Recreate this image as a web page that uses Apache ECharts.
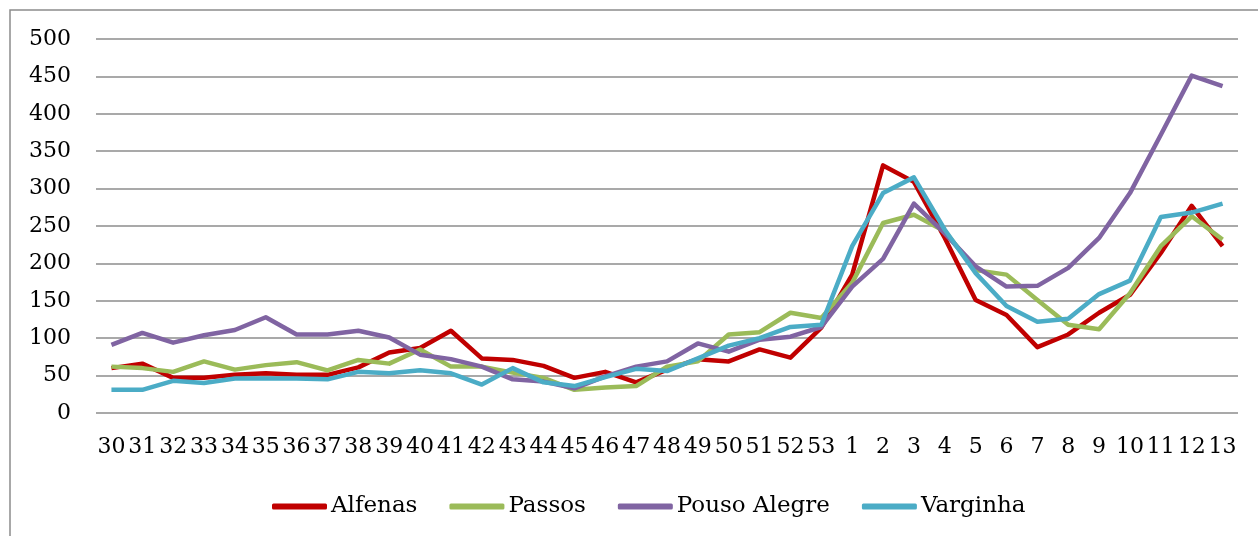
<!DOCTYPE html>
<html>
<head>
<meta charset="utf-8">
<script src="https://cdn.jsdelivr.net/npm/echarts@6/dist/echarts.min.js"></script>
<style>html,body{margin:0;padding:0;background:#fff}#c{width:1258px;height:536px}</style>
</head>
<body>
<div id="c"></div>
<script>
const weeks = ['30','31','32','33','34','35','36','37','38','39','40','41','42','43','44','45','46','47','48','49','50','51','52','53','1','2','3','4','5','6','7','8','9','10','11','12','13'];
const alfenas = [60,66,47,47,51,53,51,51,61,81,87,110,73,71,63,47,55,41,58,72,69,85,74,114,185,331,309,234,151,131,88,105,134,158,214,277,223];
const passos = [62,60,55,69,58,64,68,57,71,66,85,62,62,54,47,31,34,36,62,69,105,108,134,127,174,254,265,243,191,185,151,118,112,160,223,263,232];
const pousoAlegre = [91,107,94,104,111,128,105,105,110,101,78,72,62,45,42,33,49,62,69,93,82,98,102,115,169,206,280,240,196,169,170,194,234,294,372,451,437];
const varginha = [31,31,43,40,46,46,46,45,55,53,57,53,38,60,41,36,48,59,56,73,90,100,115,118,223,294,315,245,187,143,122,126,159,177,262,268,280];
const seriesNames = ['Alfenas','Passos','Pouso Alegre','Varginha'];
const colors = ['#C00000','#9BBB59','#8064A2','#4BACC6'];
const yTicks = [0,50,100,150,200,250,300,350,400,450,500];

const font = 'DejaVu Serif';
const chart = echarts.init(document.getElementById('c'));
const data = [alfenas, passos, pousoAlegre, varginha];
chart.setOption({
  animation: false,
  backgroundColor: '#fff',
  graphic: [{
    type: 'rect', shape: {x: 10, y: 10, width: 1400, height: 700},
    style: {fill: 'none', stroke: '#8c8c8c', lineWidth: 1.5}, silent: true, z: -1
  }],
  grid: {left: 96, right: 20, top: 39, bottom: 123, containLabel: false},
  legend: {
    data: seriesNames.map((n) => ({name: n, icon: 'roundRect'})),
    top: 490, left: 267,
    itemWidth: 55, itemHeight: 6, itemGap: 32,
    textStyle: {fontFamily: font, fontSize: 23, color: '#000', padding: [0, 0, 0, -1]}
  },
  xAxis: {
    type: 'category', data: weeks, boundaryGap: true,
    axisLine: {show: false}, axisTick: {show: false},
    axisLabel: {interval: 0, fontFamily: font, fontSize: 22, color: '#000', margin: 23}
  },
  yAxis: {
    type: 'value', min: 0, max: 500, interval: 50,
    axisLine: {show: false}, axisTick: {show: false},
    axisLabel: {fontFamily: font, fontSize: 22, color: '#000', margin: 25,
      formatter: v => yTicks.includes(v) ? String(v) : ''},
    splitLine: {lineStyle: {color: '#8c8c8c', width: 1.5}}
  },
  series: data.map((d, i) => ({
    name: seriesNames[i], type: 'line', data: d,
    symbol: 'none', color: colors[i],
    lineStyle: {width: 4.5, color: colors[i], join: 'round'}
  }))
});
</script>
</body>
</html>
